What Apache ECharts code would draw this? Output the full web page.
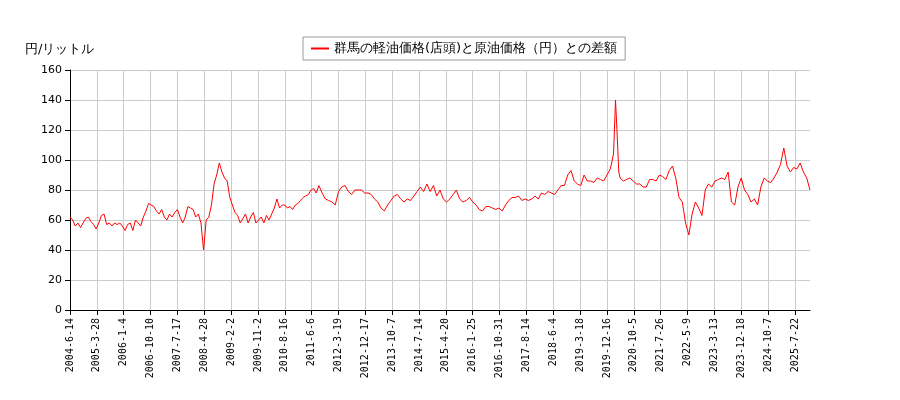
<!DOCTYPE html>
<html>
<head>
<meta charset="utf-8">
<script src="https://cdn.jsdelivr.net/npm/echarts@6/dist/echarts.min.js"></script>
<style>html,body{margin:0;padding:0;background:#fff}#main{width:900px;height:400px}</style>
</head>
<body>
<div id="main"></div>
<script>
// 目盛ラベル（41週ごと）
var tickLabels = ['2004-6-14','2005-3-28','2006-1-4','2006-10-10','2007-7-17','2008-4-28','2009-2-2','2009-11-2','2010-8-16','2011-6-6','2012-3-19','2012-12-17','2013-10-7','2014-7-14','2015-4-20','2016-1-25','2016-10-31','2017-8-14','2018-6-4','2019-3-18','2019-12-16','2020-10-5','2021-7-26','2022-5-9','2023-3-13','2023-12-18','2024-10-7','2025-7-22'];
var totalWeeks = 1131;

// 観測週（開始からの週数）と差額
var weeks = [0,4,8,12,16,20,24,28,32,36,40,44,48,52,56,60,64,68,72,76,80,84,88,92,96,100,104,108,112,116,120,124,128,132,136,140,144,148,152,156,160,164,168,172,176,180,184,188,192,196,200,204,208,212,216,220,224,228,232,236,240,244,248,252,256,260,264,268,272,276,280,284,288,292,296,300,304,308,312,316,320,324,328,332,336,340,344,348,352,356,360,364,368,372,376,
380,385,390,395,400,405,410,415,420,425,430,435,440,445,450,455,460,465,470,475,480,485,490,495,500,505,510,515,520,525,530,535,540,545,550,555,560,565,570,575,580,585,590,595,600,605,610,615,620,625,630,635,640,645,650,655,660,665,670,675,680,685,690,695,700,705,710,715,720,725,730,735,740,745,750,755,760,765,
770,775,780,785,790,795,800,805,810,815,820,825,830,833,835,838,840,845,850,855,860,865,870,875,880,885,890,895,900,905,910,915,920,925,930,935,940,945,950,955,960,965,970,975,980,985,990,995,1000,1005,1010,1015,1020,1025,1030,1035,1040,1045,1050,1055,1060,1065,1070,1075,1080,1085,1090,1095,1100,1105,1110,1115,1120,1125,1130];
var values = [62,60,56,58,55,58,61,62,59,57,54,58,63,64,57,58,56,58,57,58,56,53,57,58,53,60,58,56,62,66,71,70,69,66,64,67,62,60,64,62,65,67,62,58,62,69,68,67,62,64,58,40,60,62,70,84,90,98,92,88,86,75,70,65,63,58,61,64,58,62,65,58,60,62,58,63,60,64,68,74,68,70,70,68,69,67,70,71,73,75,76,77,80,81,78,
83,78,74,73,72,70,79,82,83,79,77,80,80,80,78,78,77,74,72,68,66,70,73,76,77,74,72,74,73,76,79,82,79,84,79,83,76,80,74,72,74,77,80,74,72,73,75,72,70,67,66,69,69,68,67,68,66,70,73,75,75,76,73,74,73,74,76,74,78,77,79,78,77,80,83,83,90,93,
86,84,83,90,86,86,85,88,87,86,90,94,104,140,122,92,88,86,87,88,86,84,84,82,82,87,87,86,90,89,87,93,96,88,75,72,58,50,64,72,68,63,80,84,82,86,87,88,87,92,72,70,82,88,80,77,72,74,70,82,88,86,85,88,92,97,108,96,92,95,94,98,92,88,80];

var categories = [];
for (var i = 0; i < totalWeeks; i++) categories.push(i);
var seriesData = weeks.map(function (w, k) { return [w, values[k]]; });

var myChart = echarts.init(document.getElementById('main'));
myChart.setOption({
    animation: false,
    textStyle: { fontFamily: 'DejaVu Sans' },
    title: {
        text: '円/リットル',
        left: 20, top: 38,
        textStyle: { fontSize: 13, fontWeight: 'normal', color: '#000' }
    },
    legend: {
        top: 37, left: 303,
        data: ['群馬の軽油価格(店頭)と原油価格（円）との差額'],
        borderColor: '#999', borderWidth: 1, borderRadius: 0,
        padding: [5, 8], itemWidth: 18, itemHeight: 2,
        icon: 'rect',
        textStyle: { fontSize: 13, color: '#000' }
    },
    grid: { left: 70, right: 90, top: 70, bottom: 90 },
    xAxis: {
        type: 'category',
        data: categories,
        boundaryGap: false,
        axisLine: { lineStyle: { color: '#000' } },
        axisTick: { interval: 40, lineStyle: { color: '#000' } },
        axisLabel: {
            interval: 40, rotate: 90, fontSize: 10, color: '#000',
            fontFamily: 'DejaVu Sans Mono',
            formatter: function (v) { return tickLabels[Math.round(v / 41)] || ''; }
        },
        splitLine: { show: true, interval: 40, lineStyle: { color: '#ccc' } }
    },
    yAxis: {
        type: 'value', min: 0, max: 160, interval: 20,
        axisLine: { show: true, lineStyle: { color: '#000' } },
        axisTick: { show: true, lineStyle: { color: '#000' } },
        axisLabel: { fontSize: 11, color: '#000' },
        splitLine: { lineStyle: { color: '#ccc' } }
    },
    series: [{
        name: '群馬の軽油価格(店頭)と原油価格（円）との差額',
        type: 'line',
        data: seriesData,
        showSymbol: false,
        lineStyle: { color: '#ff0000', width: 1 },
        itemStyle: { color: '#ff0000' }
    }]
});
</script>
</body>
</html>
